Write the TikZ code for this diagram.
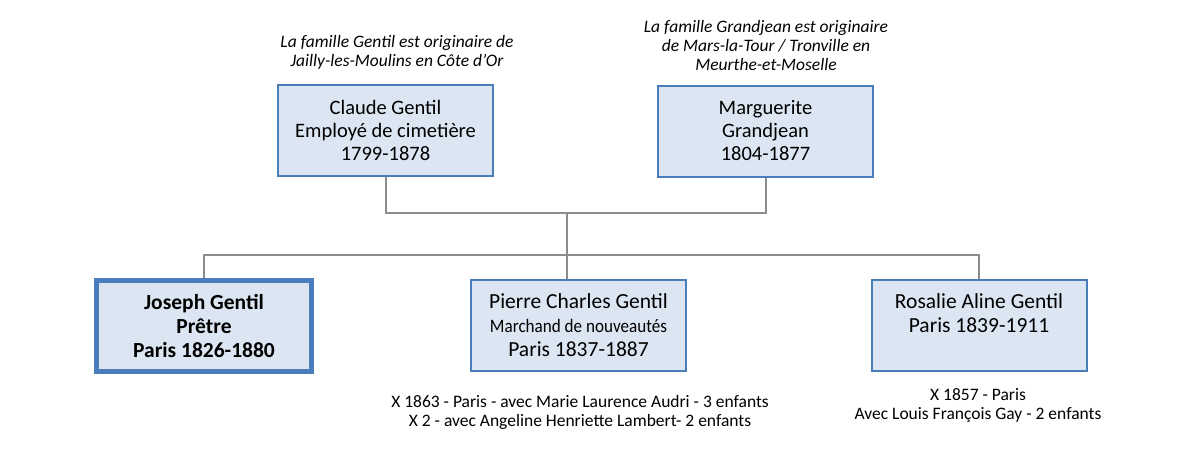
\documentclass[tikz,border=0pt]{standalone}
\usepackage{fontspec}
\setmainfont{Carlito}
\usepackage{graphicx}
\definecolor{boxfill}{RGB}{220,230,242}
\definecolor{boxline}{RGB}{74,126,187}
\definecolor{linkgray}{RGB}{140,140,140}
\tikzset{
  person/.style={draw=boxline, line width=2pt, fill=boxfill, minimum width=215pt, minimum height=91pt, inner sep=0pt, align=center, font=\fontsize{21.5}{24}\selectfont},
  link/.style={draw=linkgray, line width=2pt},
  origin/.style={align=center, font=\fontsize{17.5}{19}\selectfont\itshape},
  note/.style={align=center, font=\fontsize{17.5}{19}\selectfont}
}

\begin{document}
\begin{tikzpicture}[x=1pt,y=-1pt]
            \useasboundingbox (0,0) rectangle (1189,461);
            \node[origin] (gentilorig) at (397,52) {La famille Gentil est originaire de\\Jailly-les-Moulins en Côte d'Or};
            \node[origin] (grandjeanorig) at (766,45) {La famille Grandjean est originaire\\de Mars-la-Tour / Tronville en\\Meurthe-et-Moselle};
            \node[person, font=\fontsize{20.5}{23}\selectfont] (claude) at (385.5,130.5) {Claude Gentil\\Employé de cimetière\\1799-1878};
            \node[person, font=\fontsize{20.5}{23}\selectfont] (marguerite) at (765.5,131) {Marguerite\\Grandjean\\1804-1877};
            \node[person, line width=4.5pt, font=\fontsize{21.5}{24}\selectfont\bfseries] (joseph) at (204,326) {Joseph Gentil\\Prêtre\\Paris 1826-1880};
            \node[person] (pierre) at (578.5,325.5) {Pierre Charles Gentil\\{\fontsize{19}{24}\selectfont\scalebox{0.9}[1]{Marchand de nouveautés}}\\Paris 1837-1887};
            \node[person] (rosalie) at (979,325.5) {Rosalie Aline Gentil\\Paris 1839-1911\\\mbox{}};
            \coordinate (couple) at (567,213);
            \coordinate (fratrie) at (567,255);
            \draw[link] (claude.south) |- (couple) -| (marguerite.south);
            \draw[link] (couple) -- (couple |- pierre.north);
            \draw[link] (joseph.north) |- (fratrie) -| (rosalie.north);
            \node[note] (pierremariage) at (580,412) {X 1863 - Paris - avec Marie Laurence Audri - 3 enfants\\X 2 - avec Angeline Henriette Lambert- 2 enfants};
            \node[note] (rosaliemariage) at (978,405) {X 1857 - Paris\\Avec Louis François Gay - 2 enfants};
        \end{tikzpicture}
\end{document}
